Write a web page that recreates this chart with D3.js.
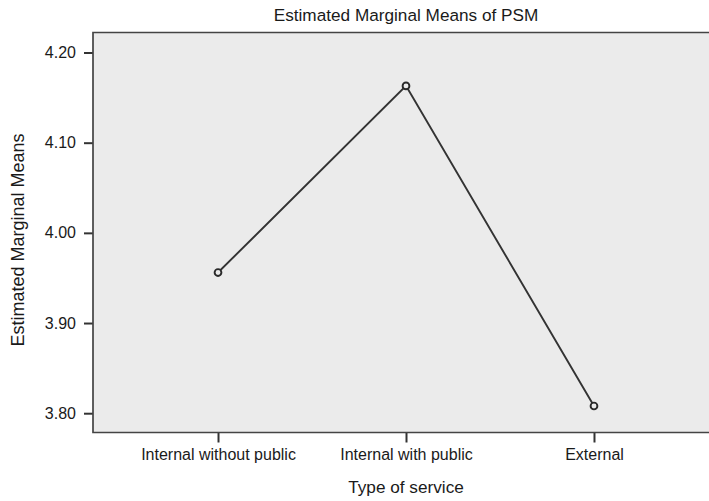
<!DOCTYPE html>
<html>
<head>
<meta charset="utf-8">
<script src="https://cdn.jsdelivr.net/npm/d3@7"></script>
<style>
  html, body { margin: 0; padding: 0; background: #fff; }
  svg { display: block; }
  text { font-family: "Liberation Sans", Arial, Helvetica, sans-serif; fill: #1a1a1a; }
</style>
</head>
<body>
<svg id="chart" width="709" height="501"></svg>
<script>
const categories = ["Internal without public", "Internal with public", "External"];
const psmMeans = [3.956, 4.163, 3.808];
const yTicks = [3.80, 3.90, 4.00, 4.10, 4.20];
const chartTitle = "Estimated Marginal Means of PSM";
const xTitle = "Type of service";
const yTitle = "Estimated Marginal Means";

const svg = d3.select("#chart");
const plot = { left: 93, right: 719, top: 32.5, bottom: 432.5 };

const x = d3.scalePoint().domain(categories).range([plot.left, plot.right]).padding(0.665);
const y = d3.scaleLinear().domain([3.7786, 4.2222]).range([plot.bottom, plot.top]);

// plot background
svg.append("rect")
  .attr("x", plot.left).attr("y", plot.top)
  .attr("width", plot.right - plot.left).attr("height", plot.bottom - plot.top)
  .attr("fill", "#ebebeb");

// y axis
const yAxis = svg.append("g")
  .attr("transform", `translate(${plot.left},0)`)
  .call(d3.axisLeft(y).tickValues(yTicks).tickFormat(d3.format(".2f")).tickSize(9).tickSizeOuter(0).tickPadding(8));
yAxis.select(".domain").remove();
yAxis.selectAll(".tick line").attr("stroke", "#333").attr("stroke-width", 2);
yAxis.selectAll(".tick text").attr("font-size", 16).attr("fill", "#1a1a1a")
  .style("font-family", "'Liberation Sans', Arial, sans-serif");

// x axis
const xAxis = svg.append("g")
  .attr("transform", `translate(0,${plot.bottom})`)
  .call(d3.axisBottom(x).tickSize(10).tickSizeOuter(0).tickPadding(6));
xAxis.select(".domain").remove();
xAxis.selectAll(".tick line").attr("stroke", "#333").attr("stroke-width", 2);
xAxis.selectAll(".tick text").attr("font-size", 16).attr("fill", "#1a1a1a")
  .style("font-family", "'Liberation Sans', Arial, sans-serif");

// frame (left, top, bottom)
svg.append("path")
  .attr("d", `M${plot.right},${plot.top}H${plot.left}V${plot.bottom}H${plot.right}`)
  .attr("fill", "none").attr("stroke", "#444").attr("stroke-width", 1.7);

// data line
const pts = categories.map((c, i) => ({ c, v: psmMeans[i] }));
svg.append("path")
  .datum(pts)
  .attr("fill", "none").attr("stroke", "#333").attr("stroke-width", 1.9)
  .attr("d", d3.line().x(d => x(d.c)).y(d => y(d.v)));

svg.selectAll("circle.pt").data(pts).enter().append("circle")
  .attr("class", "pt")
  .attr("cx", d => x(d.c)).attr("cy", d => y(d.v)).attr("r", 3.4)
  .attr("fill", "#ebebeb").attr("stroke", "#2a2a2a").attr("stroke-width", 1.9);

// titles
svg.append("text").attr("x", 406).attr("y", 21).attr("text-anchor", "middle")
  .attr("font-size", 17.2).text(chartTitle);
svg.append("text").attr("x", 406).attr("y", 493).attr("text-anchor", "middle")
  .attr("font-size", 17.2).text(xTitle);
svg.append("text").attr("transform", "translate(23.5,240) rotate(-90)")
  .attr("text-anchor", "middle").attr("font-size", 18).text(yTitle);
</script>
</body>
</html>
